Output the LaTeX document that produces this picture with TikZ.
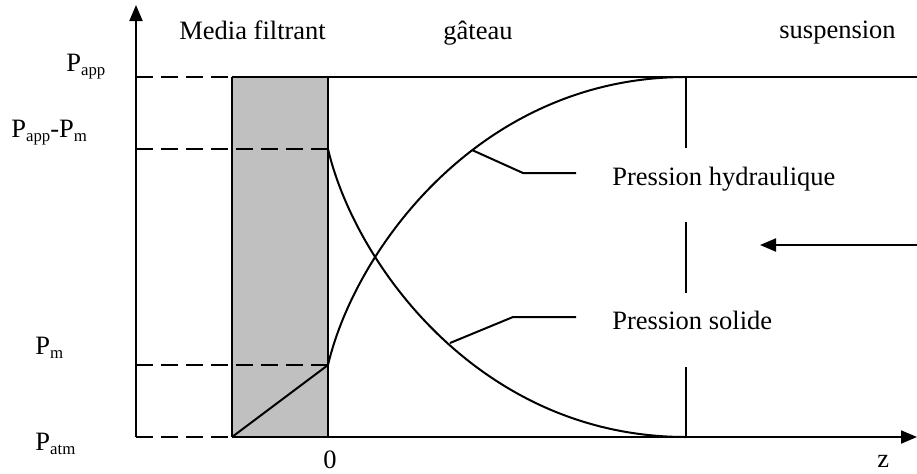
\documentclass[tikz,border=0pt]{standalone}
\usepackage{fontspec}
\setmainfont{Liberation Serif}
\usetikzlibrary{arrows.meta}
\newcommand{\sbs}[1]{\raisebox{-2.2pt}{\fontsize{8.4}{9}\selectfont #1}}
\begin{document}
\begin{tikzpicture}[x=0.5pt,y=-0.5pt,
  ln/.style={line width=1pt,black},
  dsh/.style={line width=1pt,dash pattern=on 8.5pt off 4pt},
  tip/.style={-{Triangle[length=8pt,width=6.5pt]}},
  txt/.style={font=\fontsize{13.25}{15}\selectfont,inner sep=0pt,anchor=base west}]
\useasboundingbox (0,0) rectangle (917,473);
% coordinates
\coordinate (O) at (136,437);
\coordinate (Ytop) at (136,5);
\coordinate (Xend) at (917,437);
\coordinate (mA) at (232,77);
\coordinate (mB) at (328,77);
\coordinate (mC) at (232,437);
\coordinate (mD) at (328,437);
\coordinate (hS) at (328,365);
\coordinate (sS) at (328,149);
\coordinate (E1) at (686,77);
\coordinate (E2) at (686,437);
\coordinate (Tr) at (917,77);
% media filter
\fill[fill={rgb,255:red,192;green,192;blue,192}] (mA) rectangle (mD);
\draw[ln] (mA) -- (mC);
\draw[ln] (mB) -- (mD);
% axes
\draw[ln,tip] (O) -- (Ytop);
\draw[ln,tip] (mC) -- (Xend);
\draw[ln] (mA) -- (Tr);
% dashed guide lines
\draw[dsh] (136,77) -- (mA);
\draw[dsh] (136,149) -- (sS);
\draw[dsh] (136,365) -- (hS);
\draw[dsh] (O) -- (mC);
% curves
\draw[ln] (mC) -- (hS);
\draw[ln] (hS) .. controls (355,250) and (480,77) .. (E1);
\draw[ln] (sS) .. controls (355,264) and (480,437) .. (E2);
% vertical dashed boundary
\draw[line width=1pt,dash pattern=on 35.5pt off 37pt] (E1) -- (E2);
% suspension flow arrow
\coordinate (aS) at (917,245);
\coordinate (aE) at (760,245);
\draw[ln,tip] (aS) -- (aE);
% labels
\node[txt] (lmed) at (179,39) {Media filtrant};
\node[txt] (lgat) at (443,39) {gâteau};
\node[txt] (lsus) at (779,38) {suspension};
\node[txt] (lhyd) at (612,185) {Pression hydraulique};
\node[txt] (lsol) at (612,329) {Pression solide};
\node[txt] (lz0) at (323,468) {0};
\node[txt] (lz) at (877,467) {z};
\node[txt] (lpa) at (66,71) {P\sbs{app}};
\node[txt] (lpam) at (11,137) {P\sbs{app}-P\sbs{m}};
\node[txt] (lpm) at (35,354) {P\sbs{m}};
\node[txt] (lpt) at (35,450) {P\sbs{atm}};
% leaders
\coordinate (h1) at (472,150);
\coordinate (h2) at (523,173);
\coordinate (h3) at (576,173);
\coordinate (s1) at (450,343);
\coordinate (s2) at (513,317);
\coordinate (s3) at (576,317);
\draw[ln] (h1) -- (h2) -- (h3);
\draw[ln] (s1) -- (s2) -- (s3);
\end{tikzpicture}
\end{document}
